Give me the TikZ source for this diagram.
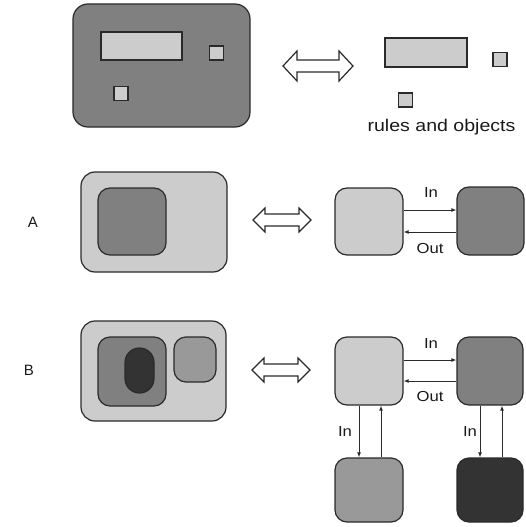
\documentclass[tikz,border=0pt]{standalone}
\usepackage{fontspec}
\setmainfont{Liberation Sans}
\usetikzlibrary{arrows.meta}
\definecolor{lgray}{HTML}{CCCCCC}
\definecolor{mgray}{HTML}{808080}
\definecolor{pgray}{HTML}{999999}
\definecolor{dgray}{HTML}{333333}
\definecolor{edge}{HTML}{2A2A2A}
\newcommand\widetxt[1]{\scalebox{1.15}[1]{#1}}
\newcommand\dblarrow[6]{% x1 x2 y headlen headhalf shafthalf
  \draw[line width=1.2pt,edge,fill=white,line join=miter]
    (#1,#3) -- ({#1+#4},{#3-#5}) -- ({#1+#4},{#3-#6}) -- ({#2-#4},{#3-#6})
    -- ({#2-#4},{#3-#5}) -- (#2,#3) -- ({#2-#4},{#3+#5}) -- ({#2-#4},{#3+#6})
    -- ({#1+#4},{#3+#6}) -- ({#1+#4},{#3+#5}) -- cycle;}
\begin{document}
\begin{tikzpicture}[x=1pt,y=-1pt,
  box/.style={draw=edge,line width=1.2pt,inner sep=0pt,rounded corners=#1},
  box/.default=12pt,
  sq/.style={draw=edge,line width=1.2pt,inner sep=0pt,fill=lgray},
  lbl/.style={font=\fontsize{14.5}{14.5}\selectfont,inner sep=0pt,text=black!90},
  conn/.style={draw=edge,line width=1pt,-{Latex[length=5pt,width=4pt]}}]
\useasboundingbox (0,0) rectangle (525,527);
% ---- top row
\node[box=15pt,fill=mgray,minimum width=177pt,minimum height=123pt] (big) at (161.5,65.5) {};
\node[sq,minimum width=81pt,minimum height=28pt] (r1) at (141.5,46) {};
\node[sq,minimum size=14pt] (s1) at (216.5,53) {};
\node[sq,minimum size=14pt] (s2) at (121,93.5) {};
\dblarrow{283}{353}{66}{14}{15}{6}
\node[sq,minimum width=82pt,minimum height=29pt] (r2) at (426,52.5) {};
\node[sq,minimum size=14pt] (s3) at (500,59.5) {};
\node[sq,minimum size=14pt] (s4) at (405.5,100) {};
\node[lbl,font=\fontsize{17}{17}\selectfont] (rt) at (441.5,127) {\widetxt{rules and objects}};
% ---- row A
\node[lbl,font=\fontsize{15}{15}\selectfont] (la) at (33,222) {A};
\node[box=14pt,fill=lgray,minimum width=146pt,minimum height=100pt] (ao) at (154,222) {};
\node[box,fill=mgray,minimum width=68pt,minimum height=67pt] (ai) at (132,221.5) {};
\dblarrow{253}{311}{220}{12}{12}{6}
\node[box,fill=lgray,minimum width=68pt,minimum height=67pt] (a1) at (369,221.5) {};
\node[box,fill=mgray,minimum width=67pt,minimum height=68pt] (a2) at (490.5,221) {};
\draw[conn] (a1.east |- 0,210) -- (a2.west |- 0,210);
\draw[conn] (a2.west |- 0,232) -- (a1.east |- 0,232);
\node[lbl] (ain) at (431,193) {\widetxt{In}};
\node[lbl] (aout) at (430,249) {\widetxt{Out}};
% ---- row B
\node[lbl,font=\fontsize{15}{15}\selectfont] (lb) at (29,370) {B};
\node[box=14pt,fill=lgray,minimum width=145pt,minimum height=100pt] (bo) at (153.5,371) {};
\node[box,fill=mgray,minimum width=68pt,minimum height=69pt] (bi) at (132,371.5) {};
\node[box=14.5pt,fill=dgray,minimum width=29pt,minimum height=45pt] (bov) at (139.5,370.5) {};
\node[box,fill=pgray,minimum width=42pt,minimum height=45pt] (bs) at (195,359.5) {};
\dblarrow{252}{310}{370}{12}{12}{6}
\node[box,fill=lgray,minimum width=68pt,minimum height=68pt] (b1) at (369,371) {};
\node[box,fill=mgray,minimum width=66pt,minimum height=68pt] (b2) at (490,371) {};
\node[box,fill=pgray,minimum width=68pt,minimum height=64pt] (b3) at (369,490) {};
\node[box,fill=dgray,minimum width=66pt,minimum height=64pt] (b4) at (490,490) {};
\draw[conn] (b1.east |- 0,360) -- (b2.west |- 0,360);
\draw[conn] (b2.west |- 0,381) -- (b1.east |- 0,381);
\node[lbl] (bin) at (431,344) {\widetxt{In}};
\node[lbl] (bout) at (430,397) {\widetxt{Out}};
\draw[conn] (b1.south -| 359,0) -- (b3.north -| 359,0);
\draw[conn] (b3.north -| 381,0) -- (b1.south -| 381,0);
\draw[conn] (b2.south -| 480,0) -- (b4.north -| 480,0);
\draw[conn] (b4.north -| 502,0) -- (b2.south -| 502,0);
\node[lbl] (bin2) at (345,432) {\widetxt{In}};
\node[lbl] (bin3) at (470,432) {\widetxt{In}};
\end{tikzpicture}
\end{document}
